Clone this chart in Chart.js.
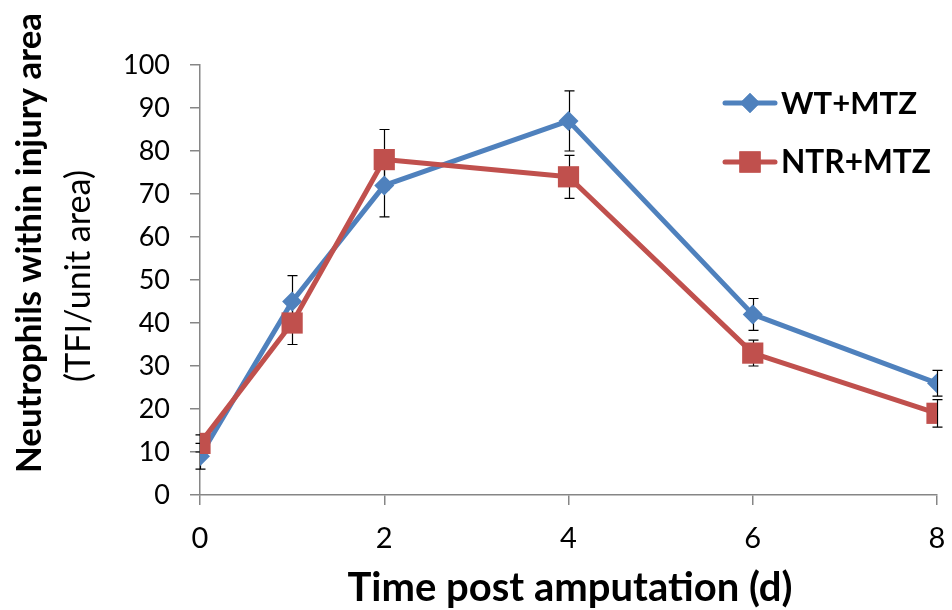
<!DOCTYPE html>
<html>
<head>
<meta charset="utf-8">
<script src="https://cdn.jsdelivr.net/npm/chart.js@4/dist/chart.umd.min.js"></script>
<style>
html,body{margin:0;padding:0;background:#fff;}
#wrap{width:952px;height:610px;position:relative;}
</style>
</head>
<body>
<div id="wrap"><canvas id="c" width="952" height="610"></canvas></div>
<script>
// ---- data ----
const days = [0, 1, 2, 4, 6, 8];
const wtValues = [9, 45, 72, 87, 42, 26];
const wtErrors = [3, 6, 7.3, 7, 3.7, 3];
const ntrValues = [12, 40, 78, 74, 33, 19];
const ntrErrors = [2, 5, 7, 5, 3, 3.2];
const seriesNames = ['WT+MTZ', 'NTR+MTZ'];
const yTitle = 'Neutrophils within injury area';
const ySubTitle = '(TFI/unit area)';
const xTitle = 'Time post amputation (d)';

const BLUE = '#4F81BD';
const RED = '#C0504D';
const AXIS = '#868686';
const FONT = 'Lato, "Open Sans", sans-serif';

function pts(xs, ys) { return xs.map((x, i) => ({x: x, y: ys[i]})); }

// choose a font size so that the text spans the wanted width
function fitFont(ctx, text, weight, width) {
  ctx.font = weight + ' 100px ' + FONT;
  const w = ctx.measureText(text).width;
  const size = 100 * width / w;
  ctx.font = weight + ' ' + size.toFixed(2) + 'px ' + FONT;
}

const errorBars = {
  id: 'errorBars',
  beforeDatasetsDraw(chart) {
    const ctx = chart.ctx;
    const xs = chart.scales.x, ys = chart.scales.y;
    const sets = [[wtValues, wtErrors], [ntrValues, ntrErrors]];
    ctx.save();
    ctx.strokeStyle = '#000';
    ctx.lineWidth = 1.2;
    sets.forEach(([vals, errs]) => {
      vals.forEach((v, i) => {
        const px = Math.round(xs.getPixelForValue(days[i])) + 0.5;
        const top = ys.getPixelForValue(v + errs[i]);
        const bot = ys.getPixelForValue(v - errs[i]);
        ctx.beginPath();
        ctx.moveTo(px, top); ctx.lineTo(px, bot);
        ctx.moveTo(px - 5, top); ctx.lineTo(px + 5, top);
        ctx.moveTo(px - 5, bot); ctx.lineTo(px + 5, bot);
        ctx.stroke();
      });
    });
    ctx.restore();
  }
};

const decorations = {
  id: 'decorations',
  afterDraw(chart) {
    const ctx = chart.ctx;
    ctx.save();
    ctx.fillStyle = '#000';
    ctx.textAlign = 'center';
    ctx.textBaseline = 'middle';
    // y titles
    ctx.save();
    ctx.translate(30, 243);
    ctx.rotate(-Math.PI / 2);
    fitFont(ctx, yTitle, 'bold', 460);
    ctx.fillText(yTitle, 0, 0);
    ctx.restore();
    ctx.save();
    ctx.translate(79, 276);
    ctx.rotate(-Math.PI / 2);
    fitFont(ctx, ySubTitle, 'normal', 212);
    ctx.fillText(ySubTitle, 0, 0);
    ctx.restore();
    // x title
    fitFont(ctx, xTitle, 'bold', 445);
    ctx.fillText(xTitle, 570, 588);
    // legend
    const items = [[seriesNames[0], BLUE, 'rectRot', 10, 103, 136], [seriesNames[1], RED, 'rect', 15, 162, 150]];
    items.forEach(([name, col, style, r, y, tw]) => {
      ctx.strokeStyle = col;
      ctx.lineWidth = 5;
      ctx.lineCap = 'round';
      ctx.beginPath();
      ctx.moveTo(725, y); ctx.lineTo(775, y);
      ctx.stroke();
      ctx.fillStyle = col;
      Chart.helpers.drawPoint(ctx, {pointStyle: style, radius: r, borderWidth: 0}, 750, y);
      ctx.fill();
      ctx.fillStyle = '#000';
      ctx.textAlign = 'left';
      fitFont(ctx, name, 'bold', tw);
      ctx.fillText(name, 781, y + 1);
    });
    ctx.restore();
  }
};

new Chart(document.getElementById('c'), {
  type: 'line',
  data: {
    datasets: [
      {
        label: seriesNames[0], data: pts(days, wtValues),
        borderColor: BLUE, backgroundColor: BLUE, borderWidth: 5,
        pointStyle: 'rectRot', pointRadius: 10, pointBorderWidth: 0,
        pointBackgroundColor: BLUE, borderJoinStyle: 'round', order: 1
      },
      {
        label: seriesNames[1], data: pts(days, ntrValues),
        borderColor: RED, backgroundColor: RED, borderWidth: 5,
        pointStyle: 'rect', pointRadius: 15, pointBorderWidth: 0,
        pointBackgroundColor: RED, borderJoinStyle: 'round', order: 0
      }
    ]
  },
  options: {
    responsive: false,
    animation: false,
    events: [],
    layout: {padding: {top: 65, right: 13, left: 0, bottom: 0}},
    plugins: {legend: {display: false}, tooltip: {enabled: false}},
    scales: {
      x: {
        type: 'linear', min: 0, max: 8,
        ticks: {stepSize: 2, color: '#000', font: {family: FONT, size: 29}, padding: 16},
        grid: {display: true, drawOnChartArea: false, drawTicks: true, tickLength: 10, color: AXIS, lineWidth: 1.5},
        border: {display: true, color: AXIS, width: 1.5},
        afterFit(s) { s.height = 115; s.paddingLeft = 0; s.paddingRight = 0; }
      },
      y: {
        min: 0, max: 100,
        ticks: {stepSize: 10, color: '#000', font: {family: FONT, size: 27}, padding: 20},
        grid: {display: true, drawOnChartArea: false, drawTicks: true, tickLength: 10, color: AXIS, lineWidth: 1.5},
        border: {display: true, color: AXIS, width: 1.5},
        afterFit(s) { s.width = 200; }
      }
    }
  },
  plugins: [errorBars, decorations]
});
</script>
</body>
</html>
